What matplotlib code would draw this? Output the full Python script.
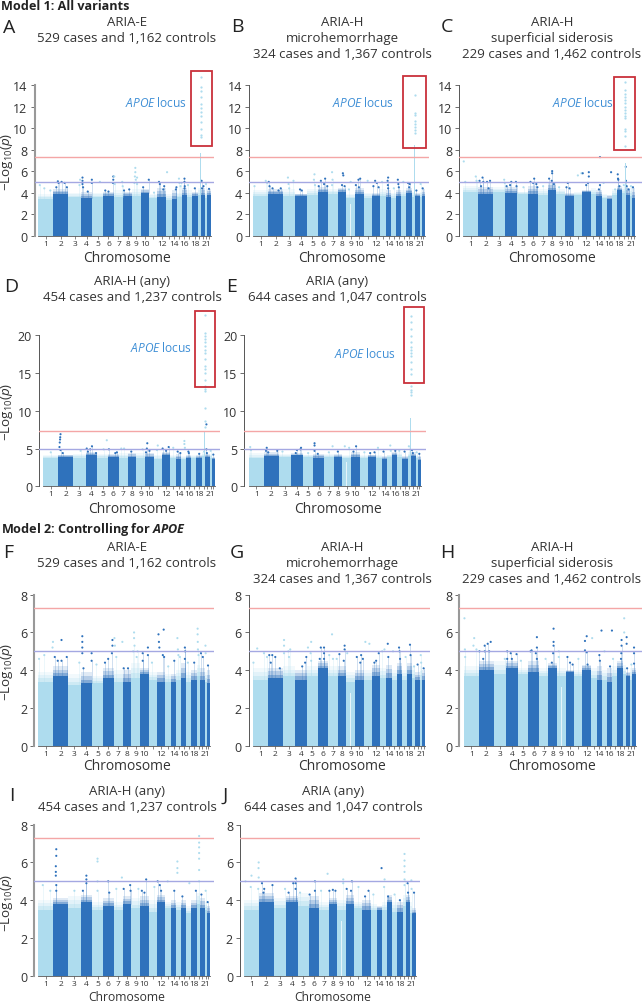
import numpy as np
import matplotlib
matplotlib.use('Agg')
import matplotlib.pyplot as plt
from matplotlib.patches import Rectangle

plt.rcParams['font.family'] = ['Open Sans', 'DejaVu Sans']
plt.rcParams['mathtext.fontset'] = 'custom'
plt.rcParams['mathtext.rm'] = 'Open Sans'
plt.rcParams['mathtext.it'] = 'Open Sans:italic'
plt.rcParams['mathtext.bf'] = 'Open Sans:bold'
plt.rcParams['mathtext.bfit'] = 'Open Sans:italic:bold'

W, H = 642, 1003
LIGHT = '#aedcee'
DARK = '#2f72bc'
TXT = '#333333'

# chromosome widths as they look on the axis
chr_width = [45, 45, 37, 35, 32, 32, 28, 26, 26, 26, 24, 26, 17, 16, 15, 15, 15, 17, 9, 14, 6, 10]
chr_labels = {1: '1', 2: '2', 3: '3', 4: '4', 5: '5', 6: '6', 7: '7', 8: '8', 9: '9', 10: '10',
              12: '12', 14: '14', 16: '16', 18: '18', 21: '21'}
chr_start = np.concatenate([[0], np.cumsum(chr_width)[:-1]])
total = sum(chr_width)

# floor = top of the solid block, crown = top of the mottled part, per chromosome
A_floor = [3.4, 3.9, 3.6, 3.5, 3.6, 3.7, 3.6, 3.7, 3.7, 4.0, 3.5, 3.6, 3.3, 3.4, 3.6, 3.8, 3.6, 3.7, 3.8, 3.8, 3.5, 3.8]
A_crown = [3.9, 4.3, 4.0, 4.1, 4.0, 4.1, 4.2, 4.1, 4.3, 4.3, 3.9, 4.4, 3.9, 4.2, 4.0, 4.4, 4.2, 4.1, 4.4, 4.4, 4.0, 4.3]
B_floor = [3.7, 3.9, 3.7, 3.7, 3.8, 4.1, 3.9, 4.1, 3.5, 3.9, 3.5, 3.7, 3.7, 3.6, 3.5, 3.7, 3.7, 4.0, 3.6, 3.7, 3.6, 3.7]
B_crown = [4.2, 4.3, 4.3, 3.9, 4.3, 4.5, 4.3, 4.4, 3.9, 4.4, 4.0, 4.0, 4.3, 4.2, 4.0, 4.2, 4.2, 4.4, 4.1, 4.0, 4.1, 4.3]
C_floor = [4.1, 3.9, 4.1, 4.0, 3.9, 3.9, 3.8, 4.2, 3.9, 3.7, 3.8, 4.1, 3.9, 3.7, 3.5, 3.4, 3.8, 4.2, 4.0, 3.8, 3.7, 3.5]
C_crown = [4.6, 4.5, 4.5, 4.5, 4.1, 4.6, 4.3, 4.9, 4.3, 4.0, 4.1, 4.2, 4.4, 4.2, 3.9, 3.8, 4.3, 4.6, 4.5, 4.4, 4.4, 4.4]
D_floor = [3.7, 3.9, 3.8, 4.1, 3.8, 3.9, 3.8, 3.9, 3.8, 3.9, 3.6, 4.1, 3.7, 3.6, 3.6, 3.7, 3.8, 3.8, 4.0, 3.9, 3.8, 3.6]
D_crown = [4.2, 4.2, 4.3, 4.6, 4.3, 4.3, 4.4, 4.4, 4.4, 4.4, 4.2, 4.6, 4.2, 4.3, 4.0, 4.2, 4.2, 4.1, 4.5, 4.3, 4.3, 3.9]
E_floor = [3.7, 4.0, 3.9, 4.1, 3.9, 3.8, 3.9, 3.9, 3.8, 3.9, 3.8, 3.9, 3.8, 3.6, 3.9, 4.1, 3.9, 3.6, 4.0, 4.0, 3.7, 3.5]
E_crown = [4.4, 4.5, 4.3, 4.4, 4.2, 4.3, 4.3, 4.3, 4.2, 4.5, 4.2, 4.2, 4.2, 4.0, 4.2, 4.5, 4.5, 4.0, 4.5, 4.5, 4.2, 4.0]
F_floor = [3.4, 3.7, 3.2, 3.3, 3.3, 3.6, 3.4, 3.4, 3.6, 3.8, 3.5, 3.4, 3.4, 3.4, 3.5, 3.6, 3.4, 3.5, 3.7, 3.5, 3.4, 3.3]
F_crown = [3.9, 4.2, 3.8, 3.9, 3.7, 4.1, 4.0, 4.0, 4.4, 4.1, 3.9, 3.9, 3.8, 3.8, 4.0, 4.4, 3.9, 4.0, 4.3, 4.1, 3.9, 4.0]
G_floor = [3.5, 3.6, 3.7, 3.5, 3.7, 4.1, 3.7, 3.7, 3.4, 3.5, 3.5, 3.7, 3.6, 3.6, 3.5, 3.8, 3.5, 3.8, 3.6, 3.5, 3.5, 3.5]
G_crown = [4.1, 4.1, 4.2, 4.0, 4.2, 4.5, 4.2, 4.2, 3.9, 4.0, 4.0, 4.3, 4.1, 4.3, 4.0, 4.4, 4.0, 4.4, 4.2, 3.9, 4.2, 4.0]
H_floor = [3.7, 4.0, 3.8, 4.1, 3.8, 3.9, 3.7, 4.1, 3.7, 3.9, 3.7, 4.0, 3.6, 3.5, 3.5, 3.4, 3.7, 4.1, 3.8, 3.7, 3.5, 3.8]
H_crown = [4.2, 4.5, 4.5, 4.5, 4.1, 4.5, 4.1, 4.4, 4.1, 4.0, 4.0, 4.3, 4.1, 4.2, 4.0, 4.1, 4.2, 4.5, 4.3, 3.9, 4.1, 4.1]
I_floor = [3.5, 3.8, 3.6, 3.9, 3.5, 3.7, 3.5, 3.8, 3.6, 3.7, 3.4, 3.9, 3.6, 3.6, 3.5, 3.6, 3.3, 3.6, 3.8, 3.6, 3.5, 3.3]
I_crown = [4.0, 4.1, 4.2, 4.3, 3.9, 4.1, 3.9, 4.2, 4.1, 4.2, 4.0, 4.3, 3.9, 4.0, 3.9, 4.0, 3.7, 4.0, 4.4, 4.1, 3.9, 3.7]
J_floor = [3.5, 3.9, 3.6, 3.9, 3.7, 3.6, 3.5, 3.8, 3.5, 3.8, 3.6, 3.5, 3.5, 3.5, 3.5, 3.9, 3.4, 3.4, 3.7, 3.9, 3.3, 3.3]
J_crown = [4.0, 4.4, 4.1, 4.2, 4.4, 4.2, 3.9, 4.1, 4.0, 4.3, 3.9, 4.0, 3.8, 3.7, 3.9, 4.3, 3.9, 3.9, 4.3, 4.3, 3.9, 3.6]

# single variants above the block: (chromosome, fraction along it, -log10 p)
A_hits = [(1,.1,4.7),(1,.4,4.4),(1,.8,4.2),(2,.3,5.05),(2,.35,4.9),(2,.55,5.0),(2,.75,4.9),(2,.2,4.5),(2,.9,4.5),
          (3,.9,4.7),(3,.95,5.2),(4,.15,5.4),(4,.15,5.1),(4,.15,4.8),(4,.2,4.5),(4,.95,5.2),(4,.95,4.9),(4,.6,4.1),
          (5,.7,5.0),(6,.95,5.5),(6,.95,5.2),(6,.92,4.9),(6,.2,4.2),(6,.5,4.1),(7,.05,5.5),(7,.1,4.8),(7,.9,5.0),
          (7,.95,4.6),(8,.1,4.2),(8,.7,4.3),(9,.4,6.3),(9,.4,5.9),(9,.35,5.5),(9,.45,5.2),(9,.6,5.4),(9,.6,4.8),
          (9,.3,4.9),(10,.3,4.5),(10,.95,5.2),(11,.6,4.0),(12,.2,5.0),(12,.3,4.8),(12,.8,4.6),(12,.7,4.3),(13,.2,5.9),
          (14,.9,4.5),(14,.8,4.3),(15,.4,5.3),(15,.5,4.9),(15,.7,4.6),(15,.9,4.9),(16,.5,5.3),(16,.5,5.0),(16,.55,4.6),
          (16,.5,4.4),(17,.2,4.7),(18,.5,4.4),(20,.2,5.1),(20,.6,4.6),(20,.3,4.4),(21,.3,4.8),(22,.5,4.35)]
B_hits = [(1,.1,4.6),(1,.85,5.1),(1,.95,4.9),(2,.05,5.0),(2,.1,4.6),(2,.3,4.4),(2,.7,4.2),(2,.85,4.4),(3,.4,5.4),
          (3,.45,4.8),(3,.85,5.1),(3,.5,4.4),(4,.4,4.3),(4,.55,4.2),(5,.7,5.7),(5,.65,5.2),(5,.75,4.7),(6,.3,5.1),
          (6,.7,5.3),(6,.6,4.8),(6,.1,4.6),(6,.9,4.6),(7,.4,5.9),(7,.45,5.2),(7,.4,4.7),(8,.6,5.8),(8,.65,5.6),
          (8,.5,4.7),(8,.8,4.6),(9,.5,5.0),(9,.3,4.3),(10,.1,4.7),(10,.4,5.2),(10,.6,5.3),(10,.45,4.5),(11,.5,5.1),
          (12,.4,5.1),(12,.6,4.9),(12,.2,4.6),(12,.8,4.5),(13,.3,5.0),(14,.4,5.4),(14,.3,5.1),(14,.35,4.7),(14,.4,4.4),
          (15,.5,4.4),(16,.3,5.2),(16,.4,4.8),(16,.5,4.5),(17,.4,5.0),(18,.3,4.9),(18,.6,4.8),(18,.5,4.5),(20,.3,4.2),
          (21,.5,4.8),(22,.3,4.4)]
C_hits = [(1,.05,6.9),(1,.15,5.0),(1,.85,5.5),(1,.9,5.1),(2,.1,5.1),(2,.3,5.4),(2,.35,5.0),(2,.6,5.0),(2,.8,5.1),
          (2,.2,4.6),(2,.7,4.4),(3,.9,5.2),(3,.95,4.9),(4,.1,4.6),(4,.5,5.0),(4,.4,4.7),(4,.9,5.0),(4,.95,4.6),(5,.6,4.5),
          (6,.25,5.0),(6,.5,4.9),(6,.6,5.3),(6,.8,4.8),(6,.9,4.5),(7,.5,4.6),(8,.15,5.3),(8,.5,6.0),(8,.5,5.8),(8,.45,5.1),
          (8,.7,4.8),(9,.3,4.5),(10,.3,4.9),(10,.15,4.5),(10,.5,4.4),(11,.5,5.6),(11,.95,5.8),(12,.1,5.8),(12,.8,5.9),
          (12,.8,5.5),(12,.7,4.9),(12,.5,4.7),(14,.7,7.3),(14,.7,4.7),(14,.5,4.3),(15,.4,4.9),(16,.9,5.9),(17,.7,4.3),
          (18,.2,5.7),(18,.25,5.3),(18,.3,5.2),(18,.5,4.6),(19,.5,4.7),(20,.1,6.4),(20,.15,5.1),(20,.3,4.6),(20,.7,4.3),
          (21,.5,4.6),(22,.3,4.5)]
D_hits = [(1,.5,4.5),(2,.15,6.9),(2,.13,6.5),(2,.12,6.2),(2,.1,5.8),(2,.08,5.2),(2,.15,4.8),(2,.3,4.4),(3,.6,4.7),
          (4,.1,5.0),(4,.55,5.3),(4,.4,4.9),(4,.2,4.6),(4,.9,4.4),(5,.6,4.9),(5,.9,6.1),(6,.1,4.9),(6,.7,4.4),(6,.85,4.5),
          (7,.3,5.0),(7,.6,5.0),(8,.4,4.6),(9,.7,4.9),(10,.2,5.0),(10,.25,5.7),(10,.5,4.7),(10,.1,4.5),(11,.5,5.4),
          (11,.4,4.8),(12,.1,5.0),(12,.5,4.7),(12,.8,5.2),(13,.5,5.1),(14,.8,4.4),(14,.3,4.6),(15,.6,6.0),(15,.6,5.6),
          (15,.7,5.1),(16,.4,4.6),(16,.5,4.4),(18,.5,4.3),(19,.7,4.6),(20,.3,8.2),(20,.3,4.9),(20,.4,4.4),(21,.5,4.7),
          (22,.5,4.2)]
E_hits = [(1,.1,5.2),(1,.15,4.8),(2,.2,5.1),(2,.15,4.7),(2,.3,4.5),(2,.9,4.7),(3,.3,4.6),(4,.5,4.8),(4,.85,5.1),
          (4,.8,4.9),(4,.4,4.4),(5,.5,4.4),(6,.1,5.7),(6,.1,5.4),(6,.1,4.7),(6,.4,4.3),(7,.5,4.5),(7,.9,5.3),(8,.5,4.6),
          (9,.3,5.3),(9,.8,5.1),(10,.6,5.3),(10,.3,4.6),(11,.6,4.5),(12,.3,4.4),(12,.8,4.5),(13,.3,5.1),(14,.3,4.6),
          (15,.6,5.4),(15,.7,4.7),(16,.6,4.7),(17,.4,4.7),(18,.4,4.6),(19,.3,5.3),(20,.2,4.8),(20,.4,4.4),(21,.5,4.5),
          (22,.5,4.3)]
F_hits = [(1,.05,4.6),(1,.4,4.8),(1,.98,5.5),(1,.95,5.2),(2,.1,4.7),(2,.3,4.5),(2,.55,5.6),(2,.55,4.5),(2,.9,4.7),
          (3,.9,4.4),(4,.15,5.8),(4,.15,5.5),(4,.15,5.2),(4,.15,4.9),(4,.95,4.9),(4,.95,4.5),(4,.25,4.1),(5,.4,4.3),
          (6,.2,4.4),(6,.9,5.6),(6,.9,5.3),(6,.85,4.9),(6,.5,4.6),(7,.1,5.7),(7,.15,5.3),(7,.3,4.7),(7,.95,5.5),(8,.1,4.1),
          (8,.6,4.1),(9,.3,6.0),(9,.3,5.7),(9,.35,5.3),(9,.2,5.0),(9,.6,4.7),(9,.7,5.0),(10,.3,4.9),(10,.3,4.5),(10,.9,5.2),
          (10,.9,4.8),(11,.4,4.4),(12,.2,5.9),(12,.25,5.5),(12,.3,5.2),(12,.8,6.15),(12,.7,4.8),(12,.85,4.7),(13,.5,4.2),
          (14,.6,4.5),(15,.2,5.7),(15,.3,5.1),(15,.4,4.8),(15,.7,4.7),(16,.7,5.2),(16,.75,5.0),(16,.7,4.6),(17,.3,4.4),
          (18,.5,4.4),(19,.2,6.2),(19,.2,5.9),(19,.25,5.5),(19,.3,5.1),(19,.5,4.8),(20,.2,4.9),(20,.6,4.7),(21,.4,5.3),
          (21,.5,4.9),(22,.4,4.25)]
G_hits = [(1,.3,5.15),(1,.05,4.4),(1,.75,4.9),(1,.95,4.7),(2,.1,4.8),(2,.3,4.8),(2,.5,4.7),(2,.2,4.4),(2,.8,4.1),
          (3,.1,5.6),(3,.1,5.3),(3,.1,4.9),(3,.45,5.0),(3,.6,5.1),(3,.5,4.7),(4,.6,4.2),(4,.85,4.4),(4,.95,4.7),(5,.1,5.2),
          (5,.4,5.5),(5,.35,4.9),(5,.4,4.5),(6,.3,5.2),(6,.6,5.2),(6,.6,4.9),(6,.6,4.6),(6,.2,4.6),(7,.1,4.8),(7,.4,5.9),
          (7,.5,4.6),(7,.9,4.6),(8,.2,4.85),(8,.8,5.3),(8,.8,5.1),(8,.7,4.5),(9,.1,4.9),(10,.2,4.7),(10,.7,4.8),(10,.6,4.4),
          (10,.9,4.6),(11,.2,5.5),(11,.7,5.4),(12,.5,4.5),(12,.8,4.9),(12,.3,4.4),(13,.3,5.0),(13,.7,5.1),(14,.3,5.4),
          (14,.4,4.7),(15,.3,5.0),(16,.5,5.2),(16,.6,5.0),(16,.7,4.6),(17,.8,4.7),(18,.6,5.35),(18,.7,4.8),(19,.6,4.2),
          (20,.5,4.3),(21,.4,4.8),(21,.6,4.4),(22,.5,4.1)]
H_hits = [(1,.05,6.75),(1,.08,5.1),(1,.1,4.7),(1,.7,5.7),(1,.65,5.3),(1,.85,5.1),(2,.05,5.0),(2,.4,5.3),(2,.4,5.0),
          (2,.6,5.4),(2,.8,5.5),(2,.7,5.0),(2,.3,4.6),(3,.9,4.6),(4,.1,5.0),(4,.4,4.9),(4,.9,4.85),(4,.1,4.6),(4,.5,4.6),
          (5,.3,4.5),(6,.2,5.0),(6,.3,5.05),(6,.8,5.75),(6,.8,5.2),(6,.7,4.9),(6,.8,4.6),(7,.7,4.6),(8,.6,6.2),(8,.6,5.5),
          (8,.6,5.3),(8,.55,4.9),(8,.4,4.4),(9,.2,5.0),(9,.2,4.7),(10,.2,4.7),(10,.5,4.4),(10,.8,4.3),(11,.5,4.6),
          (12,.3,5.55),(12,.5,5.8),(12,.3,5.05),(12,.5,4.95),(12,.6,4.3),(13,.2,5.7),(14,.5,4.8),(14,.6,4.5),(14,.9,6.1),
          (15,.5,5.0),(16,.6,4.2),(16,.98,6.1),(17,.2,4.6),(18,.8,5.6),(18,.8,5.3),(18,.75,4.9),(18,.7,4.6),(19,.5,6.75),
          (19,.5,6.0),(20,.2,5.75),(20,.2,5.4),(20,.3,4.1),(21,.5,4.3),(22,.5,5.2),(22,.5,4.9),(22,.5,4.35)]
I_hits = [(1,.3,4.8),(1,.8,4.5),(2,.2,6.7),(2,.2,6.35),(2,.17,5.8),(2,.17,5.5),(2,.17,5.3),(2,.2,4.8),(2,.2,4.5),
          (3,.5,4.5),(4,.5,5.3),(4,.5,5.1),(4,.5,4.9),(4,.2,4.5),(5,.5,6.2),(5,.5,6.05),(5,.5,5.0),(5,.5,4.5),(6,.5,5.0),
          (6,.6,4.4),(7,.3,4.6),(7,.9,5.2),(8,.1,4.6),(8,.85,4.8),(8,.9,4.5),(9,.8,4.6),(10,.2,4.5),(10,.7,5.1),(10,.5,4.4),
          (11,.7,4.7),(12,.1,5.0),(12,.35,4.8),(12,.5,4.5),(13,.4,5.0),(14,.6,4.5),(15,.2,6.05),(15,.2,5.7),(15,.2,5.45),
          (16,.2,4.2),(17,.6,4.9),(18,.8,4.5),(19,.7,7.4),(19,.7,7.05),(19,.7,6.8),(19,.7,6.5),(19,.7,6.2),(19,.7,5.6),
          (19,.7,5.0),(20,.3,4.3),(21,.5,4.5),(22,.3,3.9)]
J_hits = [(1,.1,5.0),(1,.5,5.3),(1,.45,4.7),(1,.98,6.0),(1,.97,5.7),(1,.98,5.2),(1,.95,4.6),(2,.2,4.9),(2,.35,4.6),
          (2,.9,4.8),(2,.3,4.4),(3,.9,4.6),(4,.6,4.9),(4,.8,5.15),(4,.8,4.9),(4,.8,4.6),(4,.2,4.4),(5,.2,4.4),(6,.6,5.0),
          (6,.6,4.5),(6,.1,4.3),(7,.2,4.5),(7,.9,5.4),(8,.1,4.5),(8,.5,4.55),(8,.8,4.5),(9,.7,5.1),(9,.7,4.9),(10,.1,4.6),
          (10,.7,5.0),(10,.6,4.5),(11,.5,4.7),(12,.3,4.2),(12,.7,4.5),(13,.4,4.3),(14,.9,5.7),(15,.5,5.1),(15,.4,4.7),
          (16,.2,4.2),(17,.5,4.3),(18,.5,4.0),(19,.6,6.45),(19,.6,6.1),(19,.6,5.8),(19,.6,5.5),(19,.6,5.1),(19,.6,4.8),
          (20,.4,4.9),(20,.5,4.4),(21,.5,5.05),(21,.6,4.6),(22,.5,4.4)]

# APOE column at the end of chromosome 19
A_apoe_top = 7.7
A_apoe = [9.2, 9.4, 9.9, 10.6, 11.1, 11.5, 11.9, 12.2, 12.9, 13.4, 13.8, 14.7]
B_apoe_top = 8.4
B_apoe = [9.5, 9.8, 10.1, 10.4, 10.7, 11.2, 11.4, 13.1]
C_apoe_top = 6.8
C_apoe = [8.3, 9.3, 9.7, 9.9, 10.9, 11.1, 11.4, 11.7, 12.0, 12.3, 12.6, 12.9, 13.2, 13.5, 14.3]
D_apoe_top = 7.2
D_apoe = [7.9, 8.6, 10.4, 12.6, 12.9, 13.3, 14.1, 15.0, 15.5, 15.9, 16.8, 17.7, 18.1, 18.6, 19.1, 19.5, 19.9, 20.3, 22.7]
E_apoe_top = 9.0
E_apoe = [12.1, 12.5, 12.8, 13.3, 14.9, 15.6, 16.4, 17.2, 17.6, 18.0, 18.4, 19.1, 19.9, 20.9, 21.7, 22.6]

titles = {
    'A': ['ARIA-E', '529 cases and 1,162 controls'],
    'B': ['ARIA-H', 'microhemorrhage', '324 cases and 1,367 controls'],
    'C': ['ARIA-H', 'superficial siderosis', '229 cases and 1,462 controls'],
    'D': ['ARIA-H (any)', '454 cases and 1,237 controls'],
    'E': ['ARIA (any)', '644 cases and 1,047 controls'],
    'F': ['ARIA-E', '529 cases and 1,162 controls'],
    'G': ['ARIA-H', 'microhemorrhage', '324 cases and 1,367 controls'],
    'H': ['ARIA-H', 'superficial siderosis', '229 cases and 1,462 controls'],
    'I': ['ARIA-H (any)', '454 cases and 1,237 controls'],
    'J': ['ARIA (any)', '644 cases and 1,047 controls'],
}

# pixel layout: spine x, first chrom x, last chrom x, right end, y of 0, y of ymax
layout = {
    'A': (34.5, 38.3, 210.7, 214, 236.7, 86),
    'B': (249.3, 253, 425, 429, 236.7, 86),
    'C': (459.3, 463, 635.3, 642, 236.7, 86),
    'D': (39, 43.3, 215, 220, 487.3, 336.3),
    'E': (244.3, 248.7, 421, 425.7, 487.3, 336.3),
    'F': (34.3, 38.3, 210, 214, 746.7, 595.7),
    'G': (248.7, 252.7, 425.3, 430, 746.7, 595.7),
    'H': (459.3, 463.7, 635.7, 642, 746.7, 595.7),
    'I': (34.3, 38.3, 210, 214, 976.7, 825.7),
    'J': (240, 244, 415.7, 420, 976.7, 825.7),
}
# title x, first title line y, letter x, letter y, xlabel x, xlabel y
text_pos = {
    'A': (127, 23, 9.5, 28, 127, 258.5),
    'B': (342, 23, 237, 27, 342, 258.5),
    'C': (552, 23, 447, 27, 552, 258.5),
    'D': (132, 282, 11, 287, 132, 509.5),
    'E': (337, 282, 232, 287, 338, 509.5),
    'F': (127, 548, 8, 553, 127, 766.5),
    'G': (342, 548, 237, 553, 342, 766.5),
    'H': (552, 548, 447, 553, 552, 766.5),
    'I': (127, 792, 12, 796, 127, 997.5),
    'J': (333, 792, 225, 796, 333, 997.5),
}
# red box x0, x1, y0, y1 and APOE label x, y
boxes = {
    'A': (190.7, 212, 71.7, 147, 156, 103),
    'B': (403.3, 425.7, 76.7, 148.7, 362.7, 103),
    'C': (614.3, 634.7, 77.7, 150.7, 583, 103),
    'D': (194.7, 214.7, 312, 388, 160.7, 348),
    'E': (403.7, 423.7, 307.7, 384, 365, 353.7),
}
ylabel_pos = {'A': 162, 'D': 412, 'F': 672, 'I': 903}
thick_spine = ['A', 'F', 'H', 'I']

panels = {
    'A': (A_floor, A_crown, A_hits, A_apoe_top, A_apoe, 14),
    'B': (B_floor, B_crown, B_hits, B_apoe_top, B_apoe, 14),
    'C': (C_floor, C_crown, C_hits, C_apoe_top, C_apoe, 14),
    'D': (D_floor, D_crown, D_hits, D_apoe_top, D_apoe, 20),
    'E': (E_floor, E_crown, E_hits, E_apoe_top, E_apoe, 20),
    'F': (F_floor, F_crown, F_hits, None, [], 8),
    'G': (G_floor, G_crown, G_hits, None, [], 8),
    'H': (H_floor, H_crown, H_hits, None, [], 8),
    'I': (I_floor, I_crown, I_hits, None, [], 8),
    'J': (J_floor, J_crown, J_hits, None, [], 8),
}

fig = plt.figure(figsize=(W / 100, H / 100), dpi=100)


def ftext(x, y, s, **kw):
    return fig.text(x / W, 1 - y / H, s, ha=kw.pop('ha', 'center'), va=kw.pop('va', 'center'), **kw)


ftext(1, 7, 'Model 1: All variants', ha='left', fontsize=9.1, fontweight='bold', color='#222222')
ftext(1, 530, r'Model 2: Controlling for $\mathbfit{APOE}$', ha='left', fontsize=9.1, fontweight='bold', color='#222222')

for name, (floor, crown, hits, apoe_top, apoe, ymax) in panels.items():
    spine_x, x0, x1, right, y0, ytop = layout[name]
    ax = fig.add_axes([spine_x / W, 1 - y0 / H, (right - spine_x) / W, (y0 - ytop) / H])
    ax.patch.set_alpha(0)
    scale = total / (x1 - x0)
    ax.set_xlim(-(x0 - spine_x) * scale, total + (right - x1) * scale)
    ax.set_ylim(0, ymax)

    floor = np.array(floor)
    crown = np.array(crown)
    colors = [LIGHT if i % 2 == 0 else DARK for i in range(22)]
    ax.bar(chr_start, floor, width=chr_width, align='edge', color=colors, lw=0, zorder=2)
    # crown fades out in three bands so the top edge is soft
    for lo, hi, al in [(0, 1 / 3, 0.6), (1 / 3, 2 / 3, 0.35), (2 / 3, 1, 0.15)]:
        ax.bar(chr_start, (crown - floor) * (hi - lo), bottom=floor + (crown - floor) * lo, width=chr_width,
               align='edge', color=colors, alpha=al, lw=0, zorder=2)
    # centromere gap on chromosome 9
    ax.bar(chr_start[8] + 0.5 * chr_width[8], floor[8] - 0.6, width=1.6, color='white', alpha=0.7, lw=0, zorder=2.5)

    hx = [chr_start[c - 1] + f * chr_width[c - 1] for c, f, v in hits]
    hy = [v for c, f, v in hits]
    hc = [colors[c - 1] for c, f, v in hits]
    ax.scatter(hx, hy, s=2.4, c=hc, lw=0, zorder=3, clip_on=False)
    # low variants sit on thin stalks coming out of the block
    for c, f, v in hits:
        if v - crown[c - 1] < 1.0:
            ax.plot([chr_start[c - 1] + f * chr_width[c - 1]] * 2, [floor[c - 1], v],
                    color=colors[c - 1], lw=0.4, alpha=0.4, zorder=2.6)

    if apoe_top is not None:
        col_x = chr_start[18] + 0.95 * chr_width[18]
        ax.bar(col_x, apoe_top, width=3, color=LIGHT, lw=0, zorder=3)
        ax.scatter([col_x] * len(apoe), apoe, s=2.6, c=LIGHT, lw=0, zorder=3, clip_on=False)

    ax.axhline(7.3, color='#f4a6a6', lw=1.0, zorder=4)
    ax.axhline(5, color='#a4a8e2', lw=1.0, zorder=4)

    for s in ['top', 'right']:
        ax.spines[s].set_visible(False)
    ax.spines['bottom'].set_bounds(0, total)
    ax.spines['bottom'].set_color('#555555')
    ax.spines['bottom'].set_linewidth(0.6)
    ax.spines['left'].set_color('#999999' if name in thick_spine else '#555555')
    ax.spines['left'].set_linewidth(1.5 if name in thick_spine else 0.7)

    yt = np.arange(0, ymax + 1, 5 if ymax == 20 else 2)
    ax.set_yticks(yt)
    ax.tick_params(axis='y', length=3, width=0.6, pad=2, labelsize=9, labelcolor=TXT, color='#555555')
    centers = chr_start + np.array(chr_width) / 2
    ax.set_xticks(centers)
    ax.set_xticklabels([chr_labels.get(i + 1, '') for i in range(22)])
    ax.tick_params(axis='x', length=2, width=0.5, pad=1, labelsize=6, labelcolor=TXT, color='#555555')

    tx, ty, lx, ly, xx, xy = text_pos[name]
    for i, line in enumerate(titles[name]):
        ftext(tx, ty + i * 15.8, line, fontsize=9.5, color=TXT)
    ftext(lx, ly, name, fontsize=14, color='#222222')
    ftext(xx, xy, 'Chromosome', fontsize=8.7 if name in 'IJ' else 10, color=TXT)
    if name in ylabel_pos:
        ftext(7.5, ylabel_pos[name], r'$-$Log$_{10}$($\mathit{p}$)', fontsize=9.6, rotation=90, color=TXT)
    if name in boxes:
        bx0, bx1, by0, by1, ax_, ay_ = boxes[name]
        fig.add_artist(Rectangle((bx0 / W, 1 - by1 / H), (bx1 - bx0) / W, (by1 - by0) / H,
                                 transform=fig.transFigure, fill=False, ec='#c9303a', lw=1.3))
        ftext(ax_, ay_, r'$\mathit{APOE}$ locus', fontsize=8.6, color='#3f8fd6')

fig.savefig('out.png', dpi=100)
